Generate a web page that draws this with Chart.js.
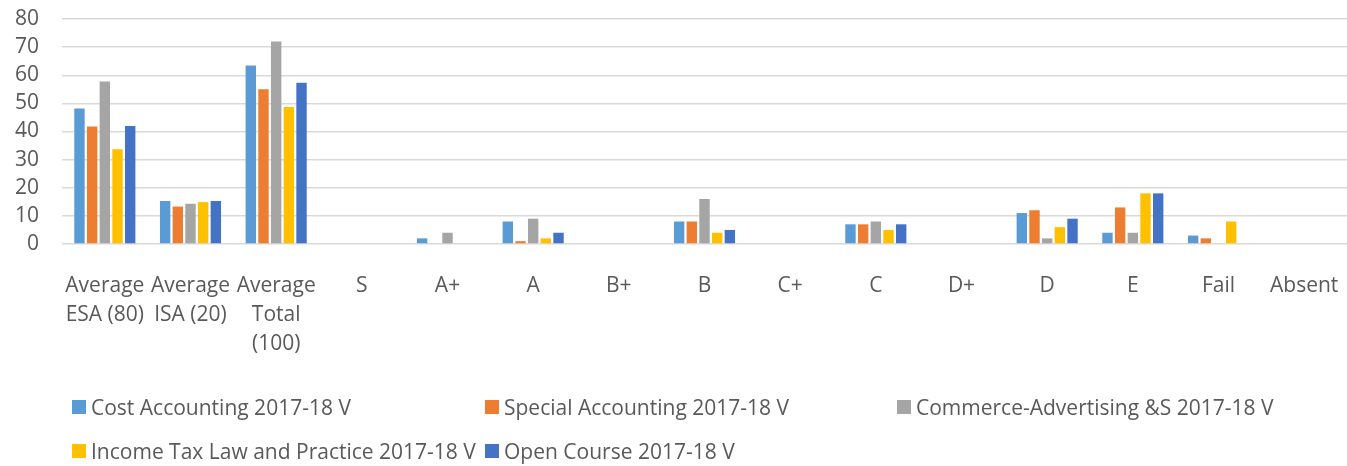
<!DOCTYPE html>
<html>
<head>
<meta charset="utf-8">
<script src="https://cdn.jsdelivr.net/npm/chart.js@4.4.1/dist/chart.umd.min.js"></script>
<style>
  body { margin: 0; background: #fff; }
  #wrap { position: relative; width: 1347px; height: 466px; }
  #legend { position: absolute; left: 0; top: 0; width: 1347px; height: 466px; pointer-events: none;
            font-family: "Open Sans", sans-serif; font-size: 21px; color: #595959; }
  .item { position: absolute; display: flex; align-items: center; white-space: nowrap; }
  .box { width: 14px; height: 14px; margin-right: 5px; }
</style>
</head>
<body>
<div id="wrap">
  <canvas id="chart" width="1347" height="466"></canvas>
  <div id="legend"></div>
</div>
<script>
const categories = [
    ['Average', 'ESA (80)'], ['Average', 'ISA (20)'], ['Average', 'Total', '(100)'],
    'S', 'A+', 'A', 'B+', 'B', 'C+', 'C', 'D+', 'D', 'E', 'Fail', 'Absent'
];
const seriesNames = [
    'Cost Accounting 2017-18 V',
    'Special Accounting 2017-18 V',
    'Commerce-Advertising &S 2017-18 V',
    'Income Tax Law and Practice 2017-18 V',
    'Open Course 2017-18 V'
];
const colors = ['#5B9BD5', '#ED7D31', '#A5A5A5', '#FFC000', '#4472C4'];

const costAccounting = [48.2, 15.3, 63.5, 0, 2, 8, 0, 8, 0, 7, 0, 11, 4, 3, 0];
const specialAccounting = [41.8, 13.3, 55, 0, 0, 1, 0, 8, 0, 7, 0, 12, 13, 2, 0];
const commerceAdvertising = [57.8, 14.3, 72, 0, 4, 9, 0, 16, 0, 8, 0, 2, 4, 0, 0];
const incomeTax = [33.7, 14.9, 48.7, 0, 0, 2, 0, 4, 0, 5, 0, 6, 18, 8, 0];
const openCourse = [42, 15.3, 57.3, 0, 0, 4, 0, 5, 0, 7, 0, 9, 18, 0, 0];
const seriesValues = [costAccounting, specialAccounting, commerceAdvertising, incomeTax, openCourse];

const yTicks = [0, 10, 20, 30, 40, 50, 60, 70, 80];

const datasets = seriesNames.map((name, i) => ({
    label: name,
    data: seriesValues[i],
    backgroundColor: colors[i],
    borderWidth: 0,
    barPercentage: 0.82,
    categoryPercentage: 0.74
}));

const ctx = document.getElementById('chart').getContext('2d');
new Chart(ctx, {
    type: 'bar',
    data: { labels: categories, datasets: datasets },
    options: {
        responsive: false,
        animation: false,
        layout: { padding: 0 },
        plugins: { legend: { display: false }, tooltip: { enabled: false } },
        scales: {
            x: {
                grid: { display: false },
                border: { display: false },
                ticks: {
                    color: '#595959',
                    font: { family: 'Open Sans', size: 21, lineHeight: 1.4 },
                    maxRotation: 0,
                    autoSkip: false,
                    padding: 19
                },
                afterFit: scale => {
                    scale.height = 222;
                    scale.paddingLeft = 0;
                    scale.paddingRight = 0;
                }
            },
            y: {
                min: 0,
                max: 80,
                afterBuildTicks: scale => { scale.ticks = yTicks.map(v => ({ value: v })); },
                afterFit: scale => {
                    scale.width = 62;
                    scale.paddingTop = 19;
                    scale.paddingBottom = 0;
                },
                grid: { color: '#d9d9d9', lineWidth: 1.5, drawTicks: false },
                border: { display: false },
                ticks: {
                    color: '#595959',
                    font: { family: 'Open Sans', size: 21, lineHeight: 1.2 },
                    autoSkip: false,
                    padding: 23
                }
            }
        }
    }
});

// legend laid out in columns like the original
const legendPos = [[72, 408], [485, 408], [897, 408], [72, 452], [485, 452]];
const legend = document.getElementById('legend');
seriesNames.forEach((name, i) => {
    const item = document.createElement('div');
    item.className = 'item';
    item.style.left = legendPos[i][0] + 'px';
    item.style.top = (legendPos[i][1] - 15) + 'px';
    item.innerHTML = `<span class="box" style="background:${colors[i]}"></span><span>${name}</span>`;
    legend.appendChild(item);
});
</script>
</body>
</html>
